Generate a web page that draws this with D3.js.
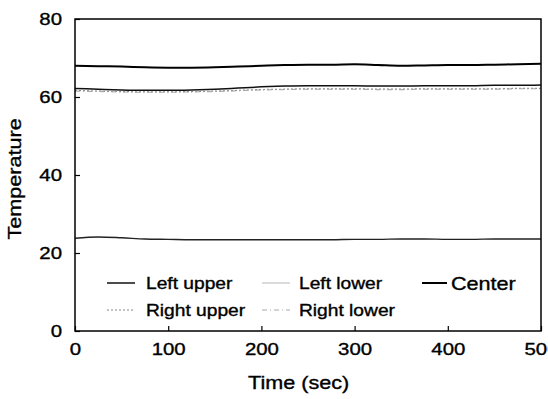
<!DOCTYPE html>
<html>
<head>
<meta charset="utf-8">
<script src="https://cdn.jsdelivr.net/npm/d3@7"></script>
<style>
body { margin: 0; background: #fff; }
text { font-family: "Liberation Sans", Arial, sans-serif; fill: #000; stroke: #000; stroke-width: 0.35px; }
</style>
</head>
<body>
<svg id="graph"></svg>
<script>
// time axis samples (sec)
var times = [0, 25, 50, 75, 100, 125, 150, 175, 200, 225, 250, 275, 300, 325, 350, 375, 400, 425, 450, 475, 500];
var leftUpper = [62.2, 62.0, 61.8, 61.7, 61.7, 61.8, 62.0, 62.3, 62.6, 62.8, 62.9, 62.9, 62.9, 62.8, 62.8, 62.9, 62.9, 62.9, 63.0, 63.0, 63.1];
var leftLower = [23.8, 24.1, 23.9, 23.6, 23.5, 23.4, 23.4, 23.4, 23.4, 23.4, 23.4, 23.4, 23.5, 23.5, 23.6, 23.6, 23.5, 23.5, 23.6, 23.6, 23.6];
var center = [68.0, 67.9, 67.8, 67.6, 67.5, 67.5, 67.6, 67.8, 68.0, 68.2, 68.3, 68.3, 68.4, 68.2, 68.0, 68.1, 68.2, 68.2, 68.3, 68.4, 68.5];
var rightUpper = [61.7, 61.5, 61.4, 61.3, 61.3, 61.4, 61.5, 61.7, 61.9, 62.0, 62.1, 62.1, 62.1, 62.0, 62.0, 62.1, 62.1, 62.1, 62.1, 62.2, 62.2];
var rightLower = [61.5, 61.4, 61.3, 61.2, 61.2, 61.3, 61.4, 61.6, 61.8, 61.9, 62.0, 62.0, 62.0, 61.9, 61.9, 62.0, 62.0, 62.0, 62.0, 62.1, 62.1];
var xTicks = [0, 100, 200, 300, 400, 500];
var yTicks = [0, 20, 40, 60, 80];

var series = [
    {name: "Left upper", values: leftUpper, color: "#111", width: 1.5, dash: null, size: 16},
    {name: "Left lower", values: leftLower, color: "#222", width: 1.4, dash: null, size: 16},
    {name: "Center", values: center, color: "#000", width: 2, dash: null, size: 18},
    {name: "Right upper", values: rightUpper, color: "#888", width: 1.2, dash: "2,2", size: 16},
    {name: "Right lower", values: rightLower, color: "#aaa", width: 1.1, dash: "5,3,1,3", size: 16}
];

var width = 548, height = 399;
var margin = {left: 75, right: 7, top: 19, bottom: 68};
var w = width - margin.left - margin.right;
var h = height - margin.top - margin.bottom;
var sx = 1.2; // wide-looking glyphs

var x = d3.scaleLinear().domain([0, 500]).range([0, w]);
var y = d3.scaleLinear().domain([0, 80]).range([h, 0]);

var svg = d3.select("#graph")
    .attr("width", width)
    .attr("height", height)
    .append("g")
    .attr("transform", "translate(" + margin.left + "," + margin.top + ")");

var line = d3.line()
    .x(function (d) { return x(d[0]); })
    .y(function (d) { return y(d[1]); })
    .curve(d3.curveMonotoneX);

svg.selectAll("path.series")
    .data(series)
    .enter().append("path")
    .attr("class", "series")
    .attr("fill", "none")
    .attr("stroke", function (d) { return d.color; })
    .attr("stroke-width", function (d) { return d.width; })
    .attr("stroke-dasharray", function (d) { return d.dash; })
    .attr("d", function (d) {
        return line(times.map(function (t, i) { return [t, d.values[i]]; }));
    });

// frame
svg.append("rect")
    .attr("width", w)
    .attr("height", h)
    .attr("fill", "none")
    .attr("stroke", "#000")
    .attr("stroke-width", 1.5);

var xAxis = svg.append("g")
    .attr("transform", "translate(0," + h + ")")
    .call(d3.axisBottom(x).tickValues(xTicks).tickSizeInner(-5).tickSizeOuter(0).tickPadding(12));
var yAxis = svg.append("g")
    .call(d3.axisLeft(y).tickValues(yTicks).tickSizeInner(-5).tickSizeOuter(0).tickPadding(10));

[xAxis, yAxis].forEach(function (a) {
    a.select(".domain").remove();
    a.selectAll("line").attr("stroke", "#000").attr("stroke-width", 1.2);
    a.selectAll("text")
        .style("font-family", "'Liberation Sans', Arial, sans-serif")
        .style("font-size", "17px")
        .attr("fill", "#000");
});
xAxis.selectAll("text").attr("transform", "scale(" + sx + ",1)");
yAxis.selectAll("text").attr("transform", "translate(-1,0) scale(" + sx + ",1)");

// axis titles
svg.append("text")
    .attr("transform", "translate(" + (x(240)) + "," + (h + 58) + ") scale(" + sx + ",1)")
    .attr("text-anchor", "middle")
    .style("font-size", "18px")
    .text("Time (sec)");
svg.append("text")
    .attr("transform", "translate(-54," + (y(39)) + ") rotate(-90) scale(" + sx + ",1)")
    .attr("text-anchor", "middle")
    .style("font-size", "18px")
    .text("Temperature");

// legend: [x, y, gap from sample start to text]
var legendPos = [[32, 270, 39], [187, 270, 37], [347, 270, 29], [32, 297, 39], [187, 297, 37]];
var lg = svg.selectAll("g.legend")
    .data(series)
    .enter().append("g")
    .attr("class", "legend")
    .attr("transform", function (d, i) {
        return "translate(" + legendPos[i][0] + "," + legendPos[i][1] + ")";
    });
lg.append("line")
    .attr("x1", 0).attr("x2", function (d, i) { return i === 2 ? 25 : 28; })
    .attr("y1", -6).attr("y2", -6)
    .attr("stroke", function (d, i) { return i === 1 ? "#ccc" : d.color; })
    .attr("stroke-width", function (d) { return d.width; })
    .attr("stroke-dasharray", function (d) { return d.dash; });
lg.append("text")
    .attr("transform", function (d, i) {
        return "translate(" + legendPos[i][2] + "," + (i === 2 ? 1 : 0) + ") scale(" + sx + ",1)";
    })
    .style("font-size", function (d) { return d.size + "px"; })
    .text(function (d) { return d.name; });
</script>
</body>
</html>
